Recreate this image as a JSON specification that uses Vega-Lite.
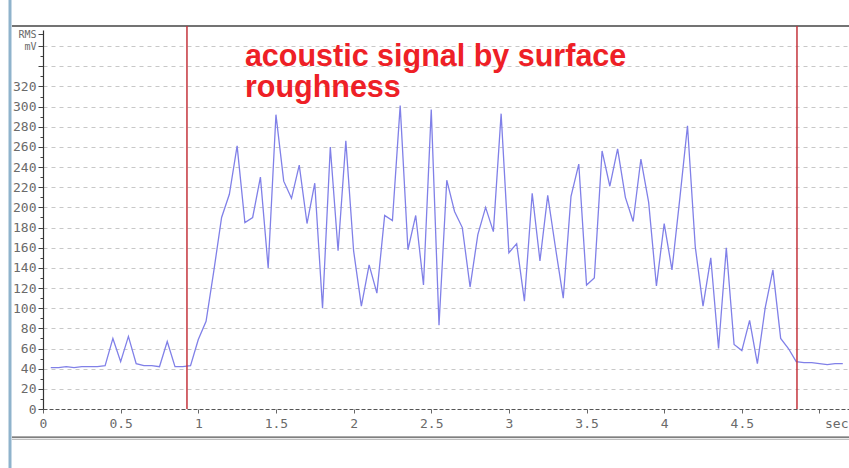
{
  "$schema": "https://vega.github.io/schema/vega-lite/v6.json",
  "width": 806,
  "height": 379,
  "autosize": {"type": "none"},
  "padding": {"left": 43, "top": 30, "right": 0, "bottom": 59},
  "background": "white",
  "config": {
    "view": {"stroke": null},
    "axis": {
      "labelFont": "DejaVu Sans Mono",
      "labelFontSize": 13,
      "labelColor": "#6a6a6a",
      "title": null
    }
  },
  "resolve": {"axis": {"x": "independent", "y": "independent"}},
  "datasets": {
    "signal": [
      {"t": 0.05, "rms": 41}, {"t": 0.1, "rms": 41}, {"t": 0.15, "rms": 42}, {"t": 0.2, "rms": 41},
      {"t": 0.25, "rms": 42}, {"t": 0.3, "rms": 42}, {"t": 0.35, "rms": 42}, {"t": 0.4, "rms": 43},
      {"t": 0.45, "rms": 70}, {"t": 0.5, "rms": 47}, {"t": 0.55, "rms": 72}, {"t": 0.6, "rms": 45},
      {"t": 0.65, "rms": 43}, {"t": 0.7, "rms": 43}, {"t": 0.75, "rms": 42}, {"t": 0.8, "rms": 67},
      {"t": 0.85, "rms": 42}, {"t": 0.9, "rms": 42}, {"t": 0.95, "rms": 43}, {"t": 1.0, "rms": 69},
      {"t": 1.05, "rms": 87}, {"t": 1.1, "rms": 137}, {"t": 1.15, "rms": 190}, {"t": 1.2, "rms": 213},
      {"t": 1.25, "rms": 261}, {"t": 1.3, "rms": 185}, {"t": 1.35, "rms": 190}, {"t": 1.4, "rms": 230},
      {"t": 1.45, "rms": 140}, {"t": 1.5, "rms": 292}, {"t": 1.55, "rms": 226}, {"t": 1.6, "rms": 209},
      {"t": 1.65, "rms": 242}, {"t": 1.7, "rms": 184}, {"t": 1.75, "rms": 224}, {"t": 1.8, "rms": 100},
      {"t": 1.85, "rms": 260}, {"t": 1.9, "rms": 157}, {"t": 1.95, "rms": 266}, {"t": 2.0, "rms": 157},
      {"t": 2.05, "rms": 102}, {"t": 2.1, "rms": 143}, {"t": 2.15, "rms": 115}, {"t": 2.2, "rms": 192},
      {"t": 2.25, "rms": 187}, {"t": 2.3, "rms": 301}, {"t": 2.35, "rms": 158}, {"t": 2.4, "rms": 192},
      {"t": 2.45, "rms": 123}, {"t": 2.5, "rms": 297}, {"t": 2.55, "rms": 83}, {"t": 2.6, "rms": 227},
      {"t": 2.65, "rms": 196}, {"t": 2.7, "rms": 180}, {"t": 2.75, "rms": 121}, {"t": 2.8, "rms": 173},
      {"t": 2.85, "rms": 200}, {"t": 2.9, "rms": 176}, {"t": 2.95, "rms": 293}, {"t": 3.0, "rms": 155},
      {"t": 3.05, "rms": 164}, {"t": 3.1, "rms": 107}, {"t": 3.15, "rms": 214}, {"t": 3.2, "rms": 147},
      {"t": 3.25, "rms": 212}, {"t": 3.3, "rms": 160}, {"t": 3.35, "rms": 110}, {"t": 3.4, "rms": 211},
      {"t": 3.45, "rms": 243}, {"t": 3.5, "rms": 123}, {"t": 3.55, "rms": 130}, {"t": 3.6, "rms": 256},
      {"t": 3.65, "rms": 221}, {"t": 3.7, "rms": 258}, {"t": 3.75, "rms": 210}, {"t": 3.8, "rms": 186},
      {"t": 3.85, "rms": 248}, {"t": 3.9, "rms": 205}, {"t": 3.95, "rms": 122}, {"t": 4.0, "rms": 184},
      {"t": 4.05, "rms": 138}, {"t": 4.1, "rms": 208}, {"t": 4.15, "rms": 281}, {"t": 4.2, "rms": 161},
      {"t": 4.25, "rms": 102}, {"t": 4.3, "rms": 150}, {"t": 4.35, "rms": 60}, {"t": 4.4, "rms": 160},
      {"t": 4.45, "rms": 64}, {"t": 4.5, "rms": 58}, {"t": 4.55, "rms": 88}, {"t": 4.6, "rms": 45},
      {"t": 4.65, "rms": 100}, {"t": 4.7, "rms": 138}, {"t": 4.75, "rms": 70}, {"t": 4.8, "rms": 60},
      {"t": 4.85, "rms": 47}, {"t": 4.9, "rms": 46}, {"t": 4.95, "rms": 46}, {"t": 5.0, "rms": 45},
      {"t": 5.05, "rms": 44}, {"t": 5.1, "rms": 45}, {"t": 5.15, "rms": 45}
    ],
    "markers": [
      {"t": 0.927, "name": "start"},
      {"t": 4.855, "name": "end"}
    ]
  },
  "layer": [
    {
      "description": "RMS signal trace (carries both axes)",
      "data": {"name": "signal"},
      "mark": {"type": "line", "color": "#8080e8", "strokeWidth": 1.3},
      "encoding": {
        "x": {
          "field": "t", "type": "quantitative",
          "scale": {"domain": [0, 5.19], "nice": false, "zero": false},
          "axis": {
            "values": [0, 0.5, 1, 1.5, 2, 2.5, 3, 3.5, 4, 4.5, 5],
            "format": "~g",
            "labelExpr": "datum.value == 5 ? 'sec' : datum.label",
            "labelAlign": {"condition": {"test": "datum.value == 5", "value": "left"}, "value": "center"},
            "labelOffset": {"condition": {"test": "datum.value == 5", "value": 5}, "value": 0},
            "labelOverlap": false,
            "labelFlush": false,
            "domainColor": "#555555",
            "domainDash": [4, 2],
            "domainWidth": 1,
            "tickColor": "#666666",
            "tickSize": 4,
            "labelPadding": 4,
            "grid": false
          }
        },
        "y": {
          "field": "rms", "type": "quantitative",
          "scale": {"domain": [0, 376], "nice": false, "zero": false},
          "axis": {
            "values": [0, 10, 20, 30, 40, 50, 60, 70, 80, 90, 100, 110, 120, 130, 140, 150, 160, 170, 180, 190, 200, 210, 220, 230, 240, 250, 260, 270, 280, 290, 300, 310, 320, 330, 340, 350, 360, 372],
            "labelExpr": "datum.value == 372 ? 'RMS' : datum.value == 360 ? 'mV' : (datum.value % 20 == 0 && datum.value <= 320) ? datum.label : ''",
            "labelFontSize": {"condition": {"test": "datum.value >= 360", "value": 10}, "value": 13},
            "labelOverlap": false,
            "labelBound": false,
            "labelPadding": 2,
            "domainColor": "#333333",
            "domainWidth": 1.2,
            "tickColor": "#444444",
            "tickSize": {"condition": {"test": "datum.value % 20 == 0 || datum.value == 372", "value": 5}, "value": 3},
            "grid": true,
            "gridColor": "#c8c8c8",
            "gridDash": [4, 4],
            "gridWidth": 1,
            "gridOpacity": {"condition": {"test": "datum.value % 20 == 0 && datum.value > 0 && datum.value <= 360", "value": 1}, "value": 0}
          }
        }
      }
    },
    {
      "description": "light blue left edge of the window",
      "data": {"values": [{}]},
      "mark": {"type": "rule", "color": "#8fb3cc", "strokeWidth": 3},
      "encoding": {
        "x": {"datum": -0.2125, "type": "quantitative", "axis": null},
        "y": {"datum": -59, "type": "quantitative", "axis": null},
        "y2": {"datum": 406}
      }
    },
    {
      "description": "top edge of the window",
      "data": {"values": [{}]},
      "mark": {"type": "rule", "color": "#444444", "strokeWidth": 1.5},
      "encoding": {
        "x": {"datum": -0.2, "type": "quantitative", "axis": null},
        "x2": {"datum": 5.19},
        "y": {"datum": 380, "type": "quantitative", "axis": null}
      }
    },
    {
      "description": "bottom double edge of the window",
      "data": {"values": [{"y": -27.9, "c": "a"}, {"y": -30, "c": "b"}]},
      "mark": {"type": "rule", "strokeWidth": 1.2},
      "encoding": {
        "x": {"datum": -0.2, "type": "quantitative", "axis": null},
        "x2": {"datum": 5.19},
        "y": {"field": "y", "type": "quantitative", "axis": null},
        "color": {"field": "c", "type": "nominal", "scale": {"range": ["#555555", "#aaaaaa"]}, "legend": null}
      }
    },
    {
      "description": "start and end markers of the measurement window",
      "data": {"name": "markers"},
      "mark": {"type": "rule", "color": "#c4343c", "strokeWidth": 1.5},
      "encoding": {
        "x": {"field": "t", "type": "quantitative", "axis": null},
        "y": {"datum": 0, "type": "quantitative", "axis": null},
        "y2": {"datum": 380}
      }
    },
    {
      "description": "annotation",
      "data": {"values": [{}]},
      "mark": {
        "type": "text",
        "text": ["acoustic signal by surface", "roughness"],
        "align": "left",
        "baseline": "alphabetic",
        "font": "Liberation Sans",
        "fontWeight": "bold",
        "fontSize": 30.5,
        "lineHeight": 31,
        "color": "#ee2026"
      },
      "encoding": {
        "x": {"datum": 1.3, "type": "quantitative", "axis": null},
        "y": {"datum": 340, "type": "quantitative", "axis": null}
      }
    }
  ]
}
